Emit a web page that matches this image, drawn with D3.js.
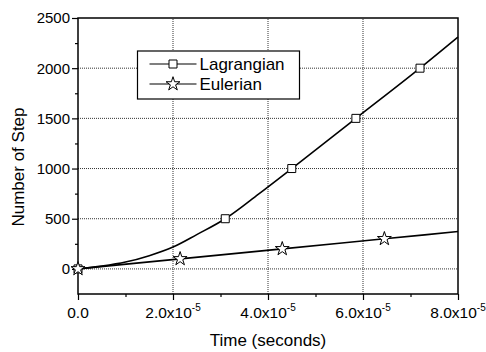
<!DOCTYPE html>
<html>
<head>
<meta charset="utf-8">
<script src="https://cdn.jsdelivr.net/npm/d3@7"></script>
<style>
  html, body { margin: 0; padding: 0; background: #fff; }
  svg { display: block; }
</style>
</head>
<body>
<div id="chart"></div>
<script>
// Lagrangian: time (s) and number of steps
const lagTime = [0, 0.5e-5, 1.0e-5, 1.5e-5, 2.0e-5, 2.5e-5, 3.1e-5, 3.8e-5, 4.5e-5, 5.85e-5, 7.2e-5, 8.0e-5];
const lagSteps = [0, 28, 68, 132, 218, 342, 500, 745, 1000, 1500, 2000, 2310];
const lagMarkers = [0, 500, 1000, 1500, 2000];

// Eulerian
const eulTime = [0, 2.15e-5, 4.3e-5, 6.45e-5, 8.0e-5];
const eulSteps = [0, 100, 200, 300, 372];
const eulMarkers = [0, 100, 200, 300];

const xTicks = [0, 2e-5, 4e-5, 6e-5, 8e-5];
const xTickLabels = ['0.0', '2.0x10', '4.0x10', '6.0x10', '8.0x10'];
const xMinor = [1e-5, 3e-5, 5e-5, 7e-5];
const yTicks = [0, 500, 1000, 1500, 2000, 2500];
const yMinor = [250, 750, 1250, 1750, 2250];

const seriesNames = ['Lagrangian', 'Eulerian'];

const width = 486, height = 352;
const margin = { top: 18, right: 28, bottom: 58, left: 78 };

const svg = d3.select('#chart')
  .append('svg')
  .attr('width', width)
  .attr('height', height)
  .attr('font-family', '"Liberation Sans", Arial, sans-serif');

const x = d3.scaleLinear().domain([0, 8e-5]).range([margin.left, width - margin.right]);
const y = d3.scaleLinear().domain([-250, 2500]).range([height - margin.bottom, margin.top]);

// dotted grid
svg.append('g')
  .selectAll('line')
  .data(yTicks.filter(d => d < 2500))
  .enter()
  .append('line')
  .attr('x1', x(0)).attr('x2', x(8e-5))
  .attr('y1', d => y(d)).attr('y2', d => y(d))
  .attr('stroke', '#333')
  .attr('stroke-width', 1)
  .attr('stroke-dasharray', '1,1');

svg.append('g')
  .selectAll('line')
  .data(xTicks.filter(d => d > 0 && d < 8e-5))
  .enter()
  .append('line')
  .attr('x1', d => x(d)).attr('x2', d => x(d))
  .attr('y1', y(-250)).attr('y2', y(2500))
  .attr('stroke', '#333')
  .attr('stroke-width', 1)
  .attr('stroke-dasharray', '1,1');

// axes, major and minor ticks
const xAxis = svg.append('g')
  .attr('transform', `translate(0, ${y(-250)})`)
  .call(d3.axisBottom(x).tickValues(xTicks).tickSize(6).tickFormat(''));
const xAxisMinor = svg.append('g')
  .attr('transform', `translate(0, ${y(-250)})`)
  .call(d3.axisBottom(x).tickValues(xMinor).tickSize(3).tickFormat(''));
const yAxis = svg.append('g')
  .attr('transform', `translate(${x(0)}, 0)`)
  .call(d3.axisLeft(y).tickValues(yTicks).tickSize(6).tickFormat(''));
const yAxisMinor = svg.append('g')
  .attr('transform', `translate(${x(0)}, 0)`)
  .call(d3.axisLeft(y).tickValues(yMinor).tickSize(3).tickFormat(''));

[xAxis, xAxisMinor, yAxis, yAxisMinor].forEach(a => {
  a.select('.domain').remove();
  a.selectAll('line').attr('stroke', '#000').attr('stroke-width', 1.2);
});

// frame
svg.append('rect')
  .attr('x', x(0)).attr('y', y(2500))
  .attr('width', x(8e-5) - x(0))
  .attr('height', y(-250) - y(2500))
  .attr('fill', 'none')
  .attr('stroke', '#000')
  .attr('stroke-width', 1.5);

// tick labels
svg.append('g')
  .selectAll('text')
  .data(yTicks)
  .enter()
  .append('text')
  .attr('x', x(0) - 8)
  .attr('y', d => y(d))
  .attr('dy', '0.36em')
  .attr('text-anchor', 'end')
  .attr('font-size', '15px')
  .text(d => d);

const xl = svg.append('g')
  .selectAll('text')
  .data(xTicks)
  .enter()
  .append('text')
  .attr('x', d => x(d))
  .attr('y', 318)
  .attr('text-anchor', 'middle')
  .attr('font-size', '15.5px');
xl.append('tspan').text((d, i) => xTickLabels[i]);
xl.filter(d => d > 0)
  .append('tspan')
  .attr('dy', -7)
  .attr('font-size', '10px')
  .text('-5');

// axis titles
svg.append('text')
  .attr('x', x(4e-5))
  .attr('y', 346)
  .attr('text-anchor', 'middle')
  .attr('font-size', '17px')
  .text('Time (seconds)');

svg.append('text')
  .attr('transform', 'translate(24, 167) rotate(-90)')
  .attr('text-anchor', 'middle')
  .attr('font-size', '17px')
  .text('Number of Step');

// series lines
const lagData = lagTime.map((t, i) => ({ t, n: lagSteps[i] }));
const eulData = eulTime.map((t, i) => ({ t, n: eulSteps[i] }));

const line = d3.line()
  .x(d => x(d.t))
  .y(d => y(d.n))
  .curve(d3.curveMonotoneX);

svg.append('path')
  .datum(lagData)
  .attr('d', line)
  .attr('fill', 'none')
  .attr('stroke', '#000')
  .attr('stroke-width', 1.6);

svg.append('path')
  .datum(eulData)
  .attr('d', line)
  .attr('fill', 'none')
  .attr('stroke', '#000')
  .attr('stroke-width', 1.6);

const square = d3.symbol().type(d3.symbolSquare).size(64);
const star = d3.symbol().type(d3.symbolStar).size(60);

svg.append('g')
  .selectAll('path')
  .data(lagData.filter(d => lagMarkers.includes(d.n)))
  .enter()
  .append('path')
  .attr('d', square)
  .attr('transform', d => `translate(${x(d.t)}, ${y(d.n)})`)
  .attr('fill', '#fff')
  .attr('stroke', '#000')
  .attr('stroke-width', 1);

svg.append('g')
  .selectAll('path')
  .data(eulData.filter(d => eulMarkers.includes(d.n)))
  .enter()
  .append('path')
  .attr('d', star)
  .attr('transform', d => `translate(${x(d.t)}, ${y(d.n)})`)
  .attr('fill', '#fff')
  .attr('stroke', '#000')
  .attr('stroke-width', 1);

// legend
const legend = svg.append('g').attr('transform', 'translate(137.5, 51)');
legend.append('rect')
  .attr('width', 162)
  .attr('height', 48)
  .attr('fill', '#fff')
  .attr('stroke', '#000')
  .attr('stroke-width', 1.2);

const legendItems = legend.selectAll('.legend-item')
  .data(seriesNames)
  .enter()
  .append('g')
  .attr('class', 'legend-item')
  .attr('transform', (d, i) => `translate(0, ${13 + i * 20})`);

legendItems.append('line')
  .attr('x1', 12).attr('x2', 59)
  .attr('stroke', '#000')
  .attr('stroke-width', 1.2);

legendItems.append('path')
  .attr('d', (d, i) => (i === 0 ? square : star)())
  .attr('transform', 'translate(35.5, 0)')
  .attr('fill', '#fff')
  .attr('stroke', '#000')
  .attr('stroke-width', 1);

legendItems.append('text')
  .attr('x', 62)
  .attr('dy', '0.36em')
  .attr('font-size', '17px')
  .text(d => d);
</script>
</body>
</html>
